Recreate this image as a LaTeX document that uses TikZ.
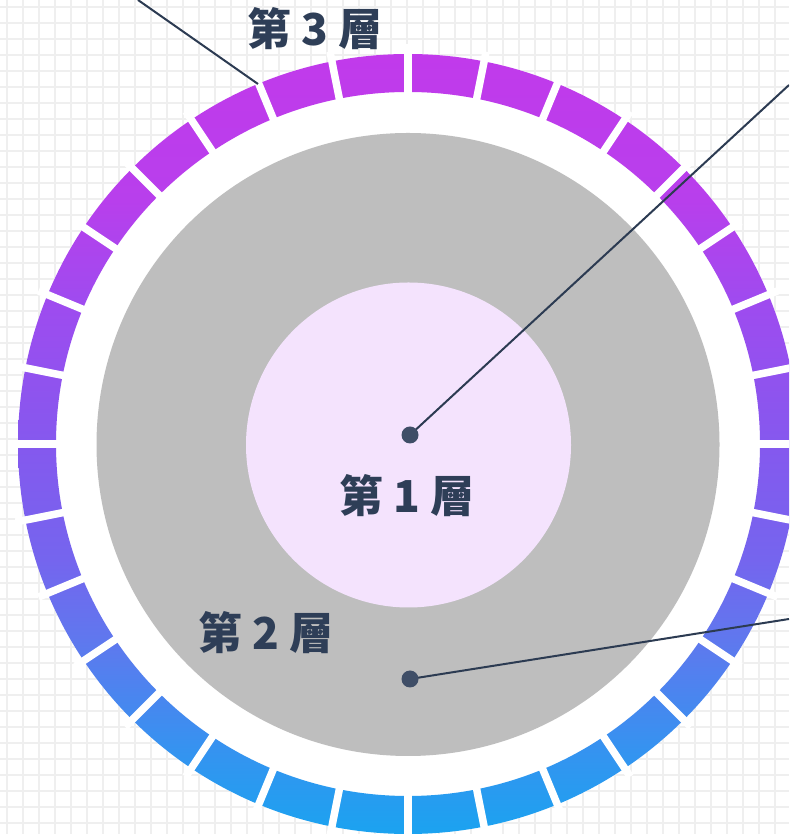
\documentclass[tikz,border=0pt]{standalone}
\usepackage{fontspec}
\newfontfamily\cjk{Noto Sans CJK TC}
\usetikzlibrary{calc}
\definecolor{gridc}{HTML}{EFEFEF}
\definecolor{grayc}{HTML}{BEBEBE}
\definecolor{innerc}{HTML}{F4E3FD}
\definecolor{linec}{HTML}{2C3B52}
\definecolor{dotc}{HTML}{3F4E67}
\definecolor{textc}{HTML}{2E3E57}
\definecolor{cB0}{HTML}{1BA3F0}
\definecolor{cB1}{HTML}{3593F0}
\definecolor{cB2}{HTML}{5F78EE}
\definecolor{cB3}{HTML}{7565EE}
\definecolor{cB4}{HTML}{8459EE}
\definecolor{cB5}{HTML}{9D4CEF}
\definecolor{cB6}{HTML}{B83FEC}
\definecolor{cB7}{HTML}{C13AEB}
\pgfdeclareverticalshading{ringshade}{100bp}{color(0bp)=(cB0); color(25bp)=(cB0); color(30.4bp)=(cB1); color(37.4bp)=(cB2); color(42.6bp)=(cB3); color(49.6bp)=(cB4); color(58.6bp)=(cB5); color(65.6bp)=(cB6); color(75bp)=(cB7); color(100bp)=(cB7)}
\tikzset{
  gridline/.style={draw=gridc, line width=2pt},
  gapline/.style={draw=white, line width=7.5pt},
  leader/.style={draw=linec, line width=2pt},
  dotnode/.style={circle, fill=dotc, inner sep=0pt, minimum size=17pt},
  lbl/.style={text=textc, font=\cjk\bfseries\fontsize{44}{50}\selectfont, inner sep=0pt}
}
\begin{document}
\begin{tikzpicture}[x=1pt,y=1pt]
\useasboundingbox (0,0) rectangle (789,834);
\clip (0,0) rectangle (789,834);
\fill[white] (0,0) rectangle (789,834);
\foreach \i in {0,...,48} \draw[gridline] ({7+16*\i},0) -- ({7+16*\i},834);
\foreach \i in {0,...,51} \draw[gridline] (0,{827-16*\i}) -- (789,{827-16*\i});
\coordinate (c) at (408,390);
\fill[white] (c) circle[radius=390];
\shade[shading=ringshade, even odd rule] (c) circle[radius=390] (c) circle[radius=352];
\foreach \k in {0,...,31} \draw[gapline, shift={(c)}] ({\k*11.25}:340) -- ({\k*11.25}:400);
\fill[grayc] (408,389.5) circle[radius=311.5];
\fill[innerc] (408.5,389) circle[radius=162.5];
% leaders
\coordinate (d1) at (410,399);
\coordinate (e1) at (789,749);
\coordinate (d2) at (410,155);
\coordinate (e2) at (789,215);
\coordinate (r3) at (258,750);
\coordinate (e3) at (138,834);
\draw[leader] (d1) -- (e1);
\draw[leader] (d2) -- (e2);
\draw[leader] (r3) -- (e3);
\node[dotnode] (dot1) at (d1) {};
\node[dotnode] (dot2) at (d2) {};
% labels
\node[lbl] (t3) at (315,805) {第 3 層};
\node[lbl] (t1) at (407,338) {第 1 層};
\node[lbl] (t2) at (266,201) {第 2 層};
\end{tikzpicture}
\end{document}
